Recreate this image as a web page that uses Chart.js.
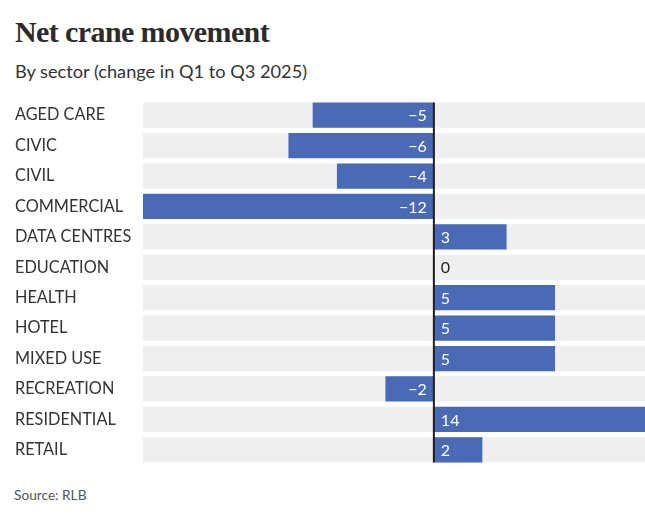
<!DOCTYPE html>
<html>
<head>
<meta charset="utf-8">
<script src="https://cdn.jsdelivr.net/npm/chart.js@4.4.0/dist/chart.umd.min.js"></script>
<style>
  html, body { margin:0; padding:0; background:#fff; }
  body { width:645px; height:518px; position:relative; overflow:hidden; font-family: Lato, sans-serif; }
  #title { position:absolute; left:15px; top:14px; font-family:"Liberation Serif", serif; font-weight:bold; font-size:30px; line-height:36px; color:#2b2b2b; letter-spacing:-0.6px; white-space:nowrap; }
  #subtitle { position:absolute; left:15px; top:60px; font-family:Lato, sans-serif; font-size:18.2px; line-height:22px; color:#333; white-space:nowrap; }
  #source { position:absolute; left:14px; top:486px; font-family:Lato, sans-serif; font-size:13.7px; line-height:18px; color:#555; white-space:nowrap; }
  #wrap { position:absolute; left:0; top:0; width:645px; height:518px; }
</style>
</head>
<body>
<div id="title">Net crane movement</div>
<div id="subtitle">By sector (change in Q1 to Q3 2025)</div>
<div id="source">Source: RLB</div>
<div id="wrap"><canvas id="c" width="645" height="518"></canvas></div>
<script>
const categories = ["AGED CARE","CIVIC","CIVIL","COMMERCIAL","DATA CENTRES","EDUCATION","HEALTH","HOTEL","MIXED USE","RECREATION","RESIDENTIAL","RETAIL"];
const netChange = [-5, -6, -4, -12, 3, 0, 5, 5, 5, -2, 14, 2];
const axisMin = -12;
const axisMax = 8.71;

const bandData = categories.map(() => [axisMin, axisMax]);

const valueLabels = {
  id: 'valueLabels',
  afterDatasetsDraw(chart) {
    const ctx = chart.ctx;
    const bands = chart.getDatasetMeta(0).data;
    const meta = chart.getDatasetMeta(1);
    const xs = chart.scales.x;
    const zero = xs.getPixelForValue(0);
    ctx.save();
    const first = bands[0], last = bands[bands.length - 1];
    ctx.strokeStyle = '#1e1e1e';
    ctx.lineWidth = 2;
    ctx.beginPath();
    ctx.moveTo(zero, first.y - first.height / 2);
    ctx.lineTo(zero, last.y + last.height / 2);
    ctx.stroke();
    ctx.font = '16px Lato, sans-serif';
    ctx.textBaseline = 'middle';
    meta.data.forEach((bar, i) => {
      const v = netChange[i];
      const txt = v < 0 ? '\u2212' + Math.abs(v) : String(v);
      if (v < 0) {
        ctx.textAlign = 'right';
        ctx.fillStyle = '#ffffff';
        ctx.fillText(txt, zero - 7, bar.y + 1);
      } else {
        ctx.textAlign = 'left';
        ctx.fillStyle = v === 0 ? '#222222' : '#ffffff';
        ctx.fillText(txt, zero + 7, bar.y + 1);
      }
    });
    ctx.restore();
  }
};

new Chart(document.getElementById('c'), {
  type: 'bar',
  data: {
    labels: categories,
    datasets: [
      { data: bandData, backgroundColor: '#efefef', borderWidth: 0, grouped: false, order: 2,
        barPercentage: 0.83, categoryPercentage: 1 },
      { data: netChange, backgroundColor: '#4a6ab6', borderWidth: 0, grouped: false, order: 1,
        barPercentage: 0.83, categoryPercentage: 1 }
    ]
  },
  options: {
    indexAxis: 'y',
    responsive: false,
    animation: false,
    devicePixelRatio: 1,
    layout: { padding: { top: 100, bottom: 53, left: 15, right: 0 } },
    plugins: { legend: { display: false }, tooltip: { enabled: false }, title: { display: false } },
    scales: {
      x: {
        display: false,
        min: axisMin, max: axisMax
      },
      y: {
        afterFit: s => { s.width = 128; },
        border: { display: false },
        grid: { display: false },
        ticks: { crossAlign: 'far', color: '#333333', font: { family: 'Lato, sans-serif', size: 16.3 }, padding: 0 }
      }
    }
  },
  plugins: [valueLabels]
});
</script>
</body>
</html>
